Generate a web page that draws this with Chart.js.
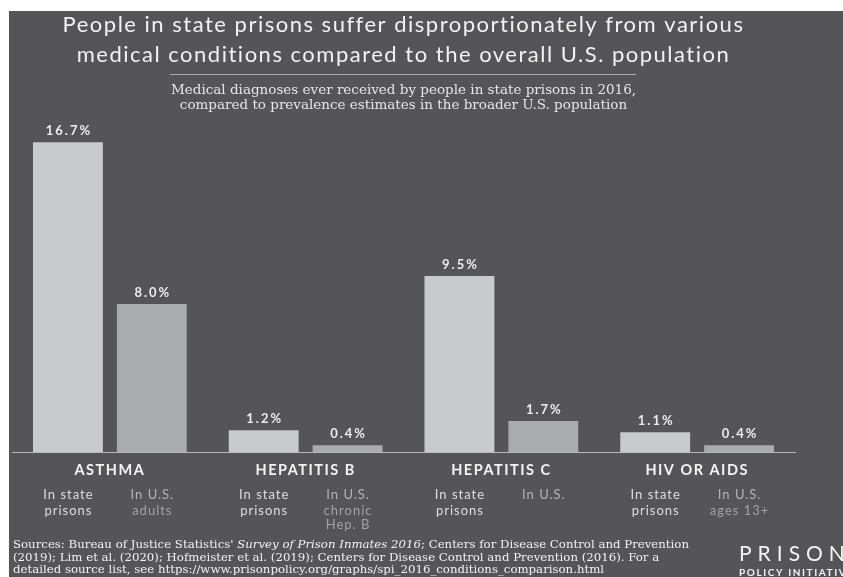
<!DOCTYPE html>
<html><head><meta charset="utf-8">
<script src="https://cdn.jsdelivr.net/npm/chart.js@4/dist/chart.umd.min.js"></script>
<style>html,body{margin:0;padding:0;background:#fff;overflow:hidden}canvas{display:block}</style>
</head><body>
<canvas id="c" width="843" height="577"></canvas>
<script>
// ---- data ----
const categories = ['ASTHMA', 'HEPATITIS B', 'HEPATITIS C', 'HIV OR AIDS'];
const seriesNames = ['In state prisons', 'In U.S.'];
const prisonValues = [16.7, 1.2, 9.5, 1.1];
const usValues = [8.0, 0.4, 1.7, 0.4];
const prisonSubLabels = [['In state', 'prisons'], ['In state', 'prisons'], ['In state', 'prisons'], ['In state', 'prisons']];
const usSubLabels = [['In U.S.', 'adults'], ['In U.S.', 'chronic', 'Hep. B'], ['In U.S.'], ['In U.S.', 'ages 13+']];
const titleLines = ['People in state prisons suffer disproportionately from various', 'medical conditions compared to the overall U.S. population'];
const subtitleLines = ['Medical diagnoses ever received by people in state prisons in 2016,', 'compared to prevalence estimates in the broader U.S. population'];
const sourceLines = [
  [["Sources: Bureau of Justice Statistics' ", false], ['Survey of Prison Inmates 2016', true], ['; Centers for Disease Control and Prevention', false]],
  [['(2019); Lim et al. (2020); Hofmeister et al. (2019); Centers for Disease Control and Prevention (2016). For a', false]],
  [['detailed source list, see https://www.prisonpolicy.org/graphs/spi_2016_conditions_comparison.html', false]]
];
const logoMain = 'PRISON';
const logoSub = 'POLICY INITIATIVE';

const BG = '#555557';
const SANS = 'Lato, "Open Sans", sans-serif';
const SERIF = '"DejaVu Serif", Georgia, serif';

const decor = {
  id: 'decor',
  beforeDraw(chart) {
    const ctx = chart.ctx;
    ctx.save();
    ctx.fillStyle = '#ffffff';
    ctx.fillRect(0, 0, chart.width, chart.height);
    ctx.fillStyle = BG;
    ctx.fillRect(9, 11, chart.width - 9, chart.height - 11);
    ctx.restore();
    // airy spacing for the title and the category axis labels
    ctx.letterSpacing = '1.5px';
  },
  afterDraw(chart) {
    const ctx = chart.ctx;
    const area = chart.chartArea;
    const tb = chart.titleBlock;
    ctx.save();
    ctx.letterSpacing = '0px';
    // divider under title
    const dy = Math.round(tb.top + 10 + 60 + 4) + 0.5;
    ctx.strokeStyle = '#a9a9ab';
    ctx.lineWidth = 1;
    ctx.beginPath();
    ctx.moveTo(170, dy);
    ctx.lineTo(636, dy);
    ctx.stroke();

    // subtitle
    ctx.textAlign = 'center';
    ctx.textBaseline = 'alphabetic';
    ctx.fillStyle = '#e6e6e6';
    ctx.font = '13.5px ' + SERIF;
    const cx = (tb.left + tb.right) / 2;
    subtitleLines.forEach((t, i) => ctx.fillText(t, cx, dy + 19.5 + i * 15));

    // value labels
    ctx.textBaseline = 'middle';
    ctx.font = 'bold 13px ' + SANS;
    ctx.letterSpacing = '2px';
    ctx.fillStyle = '#ececec';
    chart.data.datasets.forEach((ds, di) => {
      const meta = chart.getDatasetMeta(di);
      meta.data.forEach((bar, i) => {
        ctx.fillText(ds.data[i].toFixed(1) + '%', bar.x + 1, bar.y - 11);
      });
    });

    // sub labels under each bar
    ctx.textBaseline = 'alphabetic';
    ctx.letterSpacing = '1px';
    const subSets = [prisonSubLabels, usSubLabels];
    const offs = [46, 62, 76];
    subSets.forEach((labels, di) => {
      const meta = chart.getDatasetMeta(di);
      meta.data.forEach((bar, i) => {
        labels[i].forEach((t, li) => {
          ctx.font = '13px ' + SANS;
          if (di === 0) ctx.fillStyle = '#dedede';
          else ctx.fillStyle = li === 0 ? '#b3b3b3' : '#a2a2a2';
          ctx.fillText(t, bar.x + 0.5, area.bottom + offs[li]);
        });
      });
    });

    // sources
    ctx.letterSpacing = '0px';
    ctx.textAlign = 'left';
    ctx.fillStyle = '#f2f2f2';
    sourceLines.forEach((segs, li) => {
      let x = 13;
      segs.forEach(([t, it]) => {
        ctx.font = (it ? 'italic ' : '') + '11.75px ' + SERIF;
        ctx.fillText(t, x, 548 + li * 12.7);
        x += ctx.measureText(t).width;
      });
    });

    // logo
    ctx.fillStyle = '#f4f4f4';
    ctx.font = '21px ' + SANS;
    ctx.letterSpacing = '6px';
    ctx.fillText(logoMain, 739, 561);
    ctx.font = 'bold 10px ' + SANS;
    ctx.letterSpacing = '1.6px';
    ctx.fillText(logoSub, 739, 576);
    ctx.restore();
    ctx.letterSpacing = '0px';
  }
};

new Chart(document.getElementById('c'), {
  type: 'bar',
  data: {
    labels: categories,
    datasets: [
      { label: seriesNames[0], data: prisonValues, backgroundColor: '#c9cacc', borderWidth: 0, categoryPercentage: 0.857, barPercentage: 0.833 },
      { label: seriesNames[1], data: usValues, backgroundColor: '#aaabad', borderWidth: 0, categoryPercentage: 0.857, barPercentage: 0.833 }
    ]
  },
  options: {
    responsive: false,
    animation: false,
    devicePixelRatio: 1,
    layout: { padding: { top: 0, left: 12, right: 48, bottom: 89 } },
    plugins: {
      legend: { display: false },
      tooltip: { enabled: false },
      title: {
        display: true, text: titleLines, color: '#f2f2f2',
        font: { family: SANS, size: 22, weight: 'normal', lineHeight: 30 / 22 },
        padding: { top: 10, bottom: 48 }
      },
      subtitle: { display: false }
    },
    scales: {
      x: {
        grid: { display: false, drawTicks: false },
        border: { display: true, color: '#b8b8b8', width: 1 },
        ticks: { color: '#f4f4f4', font: { family: SANS, size: 14.5, weight: 'bold' }, padding: 9 }
      },
      y: { display: false, min: 0, max: 18 }
    }
  },
  plugins: [decor]
});
</script>
</body></html>
